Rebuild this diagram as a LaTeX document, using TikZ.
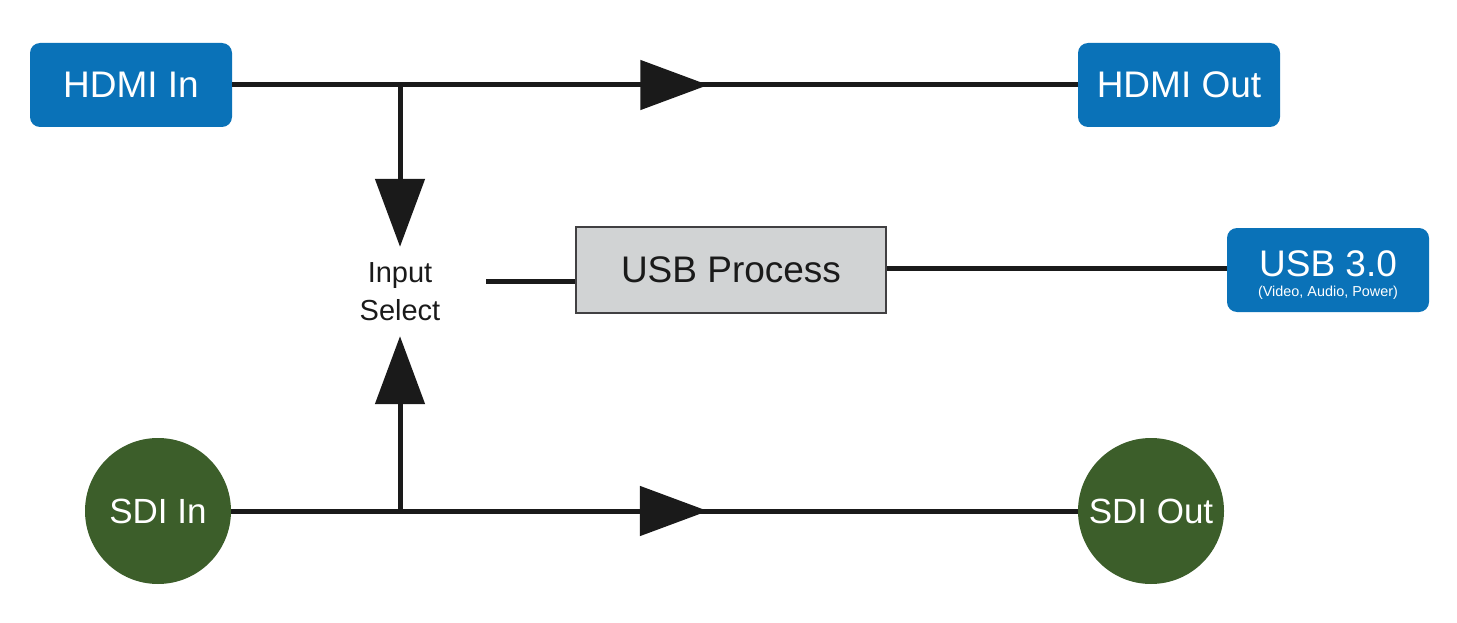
\documentclass[tikz,border=0pt]{standalone}
\usepackage{fontspec}
\setmainfont{Liberation Sans}
\usetikzlibrary{arrows.meta,decorations.markings,calc}
\definecolor{bmblue}{HTML}{0A72B8}
\definecolor{bmgreen}{HTML}{3C5E2A}
\definecolor{procgray}{HTML}{D1D3D4}
\definecolor{procborder}{HTML}{414042}
\definecolor{ink}{HTML}{1A1A1A}
\tikzset{
  bluebox/.style={rectangle, rounded corners=10pt, fill=bmblue, text=white, minimum width=202pt, minimum height=84pt, inner sep=0pt, font=\fontsize{37}{40}\selectfont},
  greencirc/.style={circle, fill=bmgreen, text=white, minimum size=146pt, inner sep=0pt, font=\fontsize{35}{38}\selectfont},
  procbox/.style={rectangle, fill=procgray, draw=procborder, line width=2.5pt, minimum width=310pt, minimum height=86pt, inner sep=0pt, text=ink, font=\fontsize{37}{40}\selectfont},
  selnode/.style={rectangle, minimum width=172pt, minimum height=89pt, inner sep=0pt, align=center, text=ink, font=\fontsize{29}{38}\selectfont},
  wire/.style={draw=ink, line width=5pt},
  midtri/.style={decoration={markings, mark=at position #1 with {\arrow[ink]{Triangle[length=68pt,width=49pt]}}}, postaction={decorate}},
  endtri/.style={-{Triangle[length=68pt,width=49pt]}}
}
\begin{document}
\begin{tikzpicture}[x=1pt,y=-1pt]
\useasboundingbox (0,0) rectangle (1457,623);
\node[bluebox] (hdmiin) at (131,85) {HDMI In};
\node[bluebox] (hdmiout) at (1179,85) {HDMI Out};
\node[greencirc] (sdiin) at (158,511) {SDI In};
\node[greencirc] (sdiout) at (1151,511) {SDI Out};
\node[procbox] (usbproc) at (731,270) {USB Process};
\node[bluebox, align=center] (usb3) at (1328,270) {\rule{0pt}{36pt}{\fontsize{37}{37}\selectfont USB 3.0}\\[-20pt]{\fontsize{14.4}{16}\selectfont (Video, Audio, Power)}};
\node[selnode] (insel) at (400,291.5) {Input\\Select};
\coordinate (hj) at (400,85);
\coordinate (sj) at (400,511);
% connectors
\draw[wire, midtri=0.563] (hdmiin.east) -- (hdmiout.west);
\draw[wire, midtri=0.563] (sdiin.east) -- (sdiout.west);
\draw[wire, endtri] (hj) -- (insel.north);
\draw[wire, endtri] (sj) -- (insel.south);
\draw[wire] ([yshift=10.5pt]insel.east) -- ([yshift=10.5pt]insel.east -| usbproc.west);
\draw[wire] ([yshift=2pt]usbproc.east) -- ([yshift=2pt]usbproc.east -| usb3.west);
\end{tikzpicture}
\end{document}
